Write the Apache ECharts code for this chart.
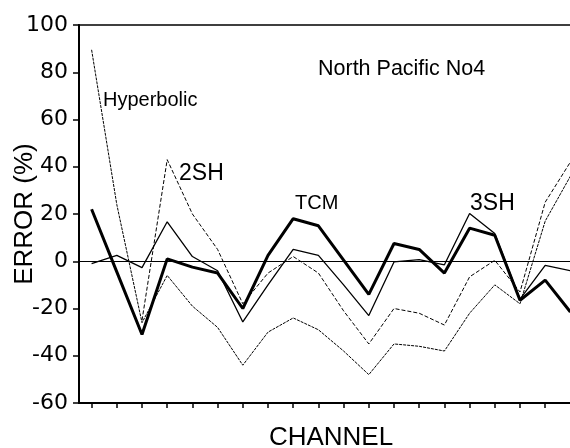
<!DOCTYPE html>
<html>
<head>
<meta charset="utf-8">
<script src="https://cdn.jsdelivr.net/npm/echarts@6.0.0/dist/echarts.min.js"></script>
<style>
html,body{margin:0;padding:0;background:#fff;}
#chart{width:570px;height:448px;}
</style>
</head>
<body>
<div id="chart"></div>
<script>
//通道
var channels = ['1','2','3','4','5','6','7','8','9','10','11','12','13','14','15','16','17','18','19','20'];
//各方法误差 (%)
var tcm = [22, -4.5, -31, 1, -2.5, -5, -20, 2.5, 18, 15, 0.5, -14, 7.5, 5, -5, 14, 11, -16.5, -8, -21.5];
var sh3 = [-1, 2.5, -2.7, 16.7, 2, -4, -25.7, -10, 5, 2.5, -10, -23, -0.3, 0.7, -1.5, 20.2, 11.7, -16, -1.7, -4];
var sh2 = [null, null, -25, 43, 20, 5, -18, -5, 2, -5, -21, -35, -20, -22, -27, -6.6, 0.4, -13, 25, 42];
var hyperbolic = [89.5, 24, -26, -6, -19, -28, -44, -30, -24, -29, -38, -48, -35, -36, -38, -22, -10, -18, 17, 36];
//标注文字
var notes = [
	{"text" : "North Pacific No4", "x" : 318, "y" : 69, "size" : 21.5},
	{"text" : "Hyperbolic", "x" : 103, "y" : 100, "size" : 20},
	{"text" : "2SH", "x" : 179, "y" : 174, "size" : 23},
	{"text" : "TCM", "x" : 295, "y" : 203, "size" : 20},
	{"text" : "3SH", "x" : 470, "y" : 204, "size" : 23}
];

var font = 'Liberation Sans, Arial, sans-serif';

function lineSeries(name, data, width, type){
	return {
		name : name,
		type : 'line',
		data : data,
		symbol : 'none',
		connectNulls : false,
		lineStyle : {color : '#000', width : width, type : type},
		z : width > 2 ? 4 : 3
	};
}

var graphics = [];
for(var i in notes){
	graphics.push({
		type : 'text',
		x : notes[i]["x"],
		y : notes[i]["y"],
		style : {
			text : notes[i]["text"],
			fontSize : notes[i]["size"],
			fontFamily : font,
			fill : '#000',
			align : 'left',
			verticalAlign : 'middle'
		}
	});
}

var zeroSeries = lineSeries('TCM', tcm, 3, 'solid');
zeroSeries.markLine = {
	silent : true,
	symbol : 'none',
	label : {show : false},
	lineStyle : {color : '#000', width : 1, type : 'solid'},
	data : [{yAxis : 0}]
};

option = {
	backgroundColor : '#fff',
	animation : false,
	grid : {
		left : 79,
		right : -13,
		top : 25,
		bottom : 45,
		containLabel : false,
		outerBoundsMode : 'none',
		show : true,
		borderColor : '#000',
		borderWidth : 1.5
	},
	xAxis : {
		type : 'category',
		data : channels,
		boundaryGap : true,
		name : 'CHANNEL',
		nameLocation : 'middle',
		nameGap : 22,
		nameMoveOverlap : false,
		nameTextStyle : {fontSize : 26, fontFamily : font, color : '#000'},
		axisLine : {onZero : false, lineStyle : {color : '#000', width : 2}},
		axisTick : {show : true, alignWithLabel : true, interval : 0, length : 5, lineStyle : {color : '#000', width : 1.5}},
		axisLabel : {show : true, interval : 0, color : 'rgba(0,0,0,0)', fontSize : 1},
		splitLine : {show : false}
	},
	yAxis : {
		type : 'value',
		min : -60,
		max : 100,
		interval : 20,
		name : 'ERROR (%)',
		nameLocation : 'middle',
		nameGap : 41,
		nameMoveOverlap : false,
		nameTextStyle : {fontSize : 26, fontFamily : font, color : '#000'},
		axisLine : {show : true, lineStyle : {color : '#000', width : 2}},
		axisTick : {show : true, length : 6, lineStyle : {color : '#000', width : 1.5}},
		axisLabel : {fontSize : 22, fontFamily : 'DejaVu Sans', color : '#000', margin : 11},
		splitLine : {show : false}
	},
	graphic : graphics,
	series : [
		lineSeries('Hyperbolic', hyperbolic, 1, [3, 1]),
		lineSeries('2SH', sh2, 1, [4, 2]),
		lineSeries('3SH', sh3, 1.3, 'solid'),
		zeroSeries
	]
};
var myChart = echarts.init(document.getElementById('chart'));
myChart.setOption(option, true);
</script>
</body>
</html>
